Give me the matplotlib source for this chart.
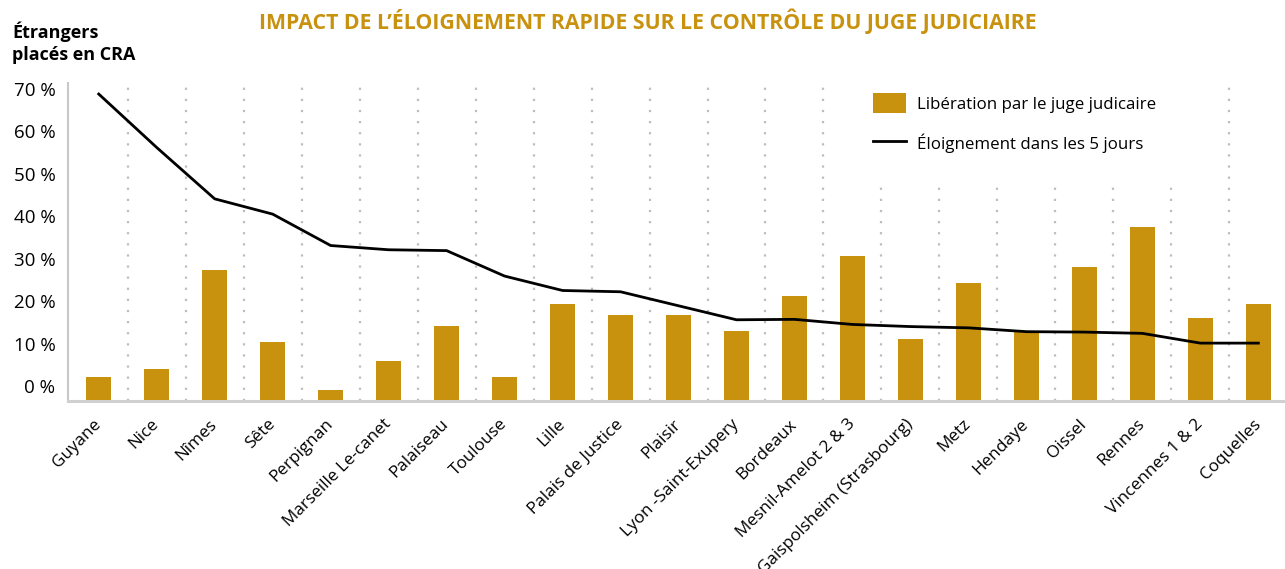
import matplotlib
matplotlib.use("Agg")
import matplotlib.pyplot as plt
import numpy as np
from matplotlib.patches import Patch
from matplotlib.lines import Line2D

plt.rcParams['font.family'] = ['Open Sans', 'DejaVu Sans']

GOLD = '#c8920e'
GREY = '#c8c8c8'

centres = ["Guyane", "Nice", "Nîmes", "Sête", "Perpignan", "Marseille Le-canet",
           "Palaiseau", "Toulouse", "Lille", "Palais de Justice", "Plaisir",
           "Lyon -Saint-Exupery", "Bordeaux", "Mesnil-Amelot 2 & 3",
           "Gaispolsheim (Strasbourg)", "Metz", "Hendaye", "Oissel", "Rennes",
           "Vincennes 1 & 2", "Coquelles"]

# % libération par le juge judiciaire (read against the y axis labels)
liberation = [2.1, 4.0, 27.3, 10.4, -0.9, 5.9, 14.1, 2.1, 19.3, 16.7, 16.7,
              13.0, 21.2, 30.6, 11.1, 24.3, 13.0, 28.0, 37.5, 16.0, 19.3]

# % éloignement dans les 5 jours
eloignement = [68.8, 56.2, 44.1, 40.5, 33.1, 32.1, 31.9, 25.9, 22.5, 22.2, 18.9,
               15.6, 15.7, 14.5, 14.0, 13.7, 12.8, 12.7, 12.4, 10.1, 10.1]

yticks = [0, 10, 20, 30, 40, 50, 60, 70]

ymin, ymax = -3.54, 71.4

fig = plt.figure(figsize=(12.85, 5.69), dpi=100)
ax = fig.add_axes([68 / 1285, 1 - 401 / 569, 1 - 68 / 1285, (401 - 83) / 569])

x = np.arange(len(centres))

# dotted separators between centres (shorter ones sit under the legend)
for b in x[:-1] + 0.5:
    top = 48 if 13 < b < 19 else ymax
    ax.vlines(b, ymin, top, colors='#bdbdbd', linestyles=(0, (1, 4)),
              linewidth=1.6, zorder=1)

vals = np.array(liberation)
ax.bar(x, vals - ymin, bottom=ymin, width=0.43, color=GOLD, zorder=2)
ax.plot(x, eloignement, color='black', lw=2.0, zorder=3)

ax.set_xlim(-0.53, 20.46)
ax.set_ylim(ymin, ymax)

ax.set_yticks(yticks)
ax.set_yticklabels([f"{v} %" for v in yticks], fontsize=13.5)
ax.tick_params(axis='y', length=0, pad=9)

ax.set_xticks(x)
ax.set_xticklabels(centres, rotation=45, ha='right', va='center',
                   rotation_mode='anchor', fontsize=12.3)
ax.tick_params(axis='x', length=0, pad=15)

for s in ['top', 'right']:
    ax.spines[s].set_visible(False)
ax.spines['left'].set_color(GREY)
ax.spines['left'].set_linewidth(1.5)
ax.spines['bottom'].set_color('#d0d0d0')
ax.spines['bottom'].set_linewidth(2.2)

handles = [Patch(facecolor=GOLD, edgecolor='none'),
           Line2D([0], [0], color='black', lw=2.0)]
labels = ["Libération par le juge judicaire", "Éloignement dans les 5 jours"]
fig.legend(handles, labels, loc='upper left',
           bbox_to_anchor=(858 / 1285, 1 - 78 / 569), frameon=False,
           fontsize=12.2, handlelength=1.95, handleheight=1.45,
           handletextpad=0.65, labelspacing=1.15)

fig.text(0.504, 1 - 21 / 569, "IMPACT DE L’ÉLOIGNEMENT RAPIDE SUR LE CONTRÔLE DU JUGE JUDICIAIRE",
         ha='center', va='center', color=GOLD, fontsize=15.3, fontweight='bold')
fig.text(12 / 1285, 1 - 21 / 569, "Étrangers\nplacés en CRA", ha='left', va='top',
         fontsize=13, fontweight='bold', linespacing=1.35)

fig.savefig("out.png", dpi=100)
